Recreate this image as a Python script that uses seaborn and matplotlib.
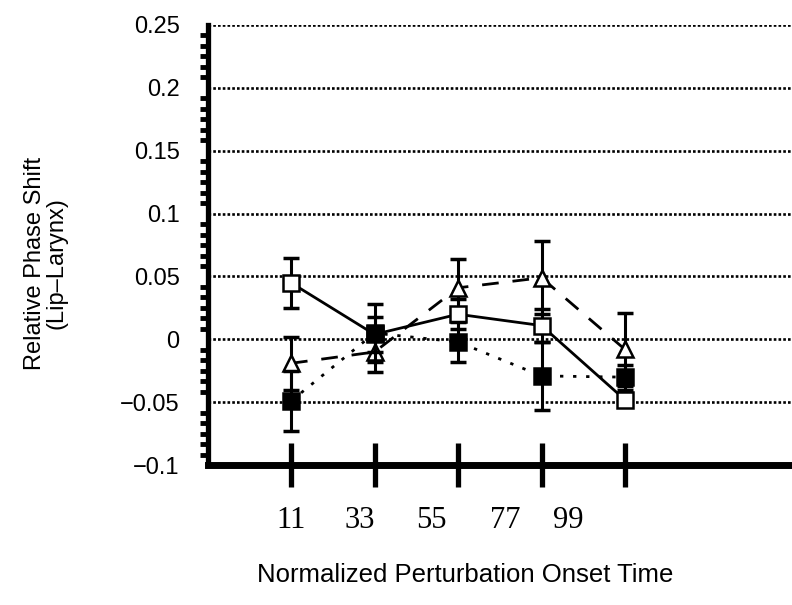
import numpy as np
import pandas as pd
import matplotlib
matplotlib.use("Agg")
import matplotlib.pyplot as plt
import seaborn as sns
from matplotlib.ticker import MultipleLocator

# ---- data ----
positions = [1, 2, 3, 4, 5]
tick_labels = ["11", "33", "55", "77", "99"]
label_positions = [1.0, 1.82, 2.68, 3.56, 4.32]

open_sq = [0.045, 0.004, 0.020, 0.011, -0.048]
open_sq_err = [0.020, 0.014, 0.012, 0.013, 0.005]

filled_sq = [-0.049, 0.005, -0.002, -0.029, -0.030]
filled_sq_err = [0.024, 0.023, 0.016, 0.027, 0.010]

triangle = [-0.019, -0.010, 0.041, 0.049, -0.008]
triangle_err = [0.021, 0.016, 0.023, 0.029, 0.029]

y_ticks = [-0.1, -0.05, 0, 0.05, 0.1, 0.15, 0.2, 0.25]
y_tick_labels = ["\u22120.1", "\u22120.05", "0", "0.05", "0.1", "0.15", "0.2", "0.25"]

df = pd.DataFrame({
    "pos": positions * 3,
    "value": open_sq + filled_sq + triangle,
    "series": ["open"] * 5 + ["filled"] * 5 + ["tri"] * 5,
})

sns.set_style("white")
plt.rcParams["font.family"] = ["Liberation Sans", "DejaVu Sans"]
plt.rcParams.update({
    "text.color": "black",
    "axes.labelcolor": "black",
    "xtick.color": "black",
    "ytick.color": "black",
    "axes.edgecolor": "black",
})

fig = plt.figure(figsize=(7.92, 6.05), dpi=100)
ax = fig.add_axes([0.262, 0.231, 0.738, 0.728])

# gridlines
for yv in y_ticks[1:]:
    ax.axhline(yv, color="black", lw=1.9, ls=(0, (1, 0.8)), zorder=1)

styles = {
    "tri": dict(marker="^", ls=(0, (6, 5)), mfc="white", ms=12, err=triangle_err, z=3),
    "open": dict(marker="s", ls="-", mfc="white", ms=11, err=open_sq_err, z=4),
    "filled": dict(marker="s", ls=(0, (1.2, 3.5)), mfc="black", ms=11, err=filled_sq_err, z=5),
}
for name in ["tri", "open", "filled"]:
    st = styles[name]
    sub = df[df["series"] == name]
    ax.errorbar(sub["pos"], sub["value"], yerr=st["err"], fmt="none",
                ecolor="black", elinewidth=2.2, capsize=6, capthick=2.5,
                zorder=st["z"])
    sns.lineplot(data=sub, x="pos", y="value", ax=ax, color="black",
                 lw=2.0, linestyle=st["ls"], marker=st["marker"],
                 markersize=st["ms"], markerfacecolor=st["mfc"],
                 markeredgecolor="black", markeredgewidth=1.8,
                 zorder=st["z"], legend=False)

ax.set_xlim(0, 7)
ax.set_ylim(-0.1, 0.25)

# spines
for s in ["top", "right"]:
    ax.spines[s].set_visible(False)
ax.spines["left"].set_linewidth(3.8)
ax.spines["bottom"].set_linewidth(5)
ax.spines["left"].set_color("black")
ax.spines["bottom"].set_color("black")

ax.set_yticks(y_ticks)
ax.set_yticklabels(y_tick_labels, fontsize=17, color="black")
ax.yaxis.set_minor_locator(MultipleLocator(0.05 / 6))
ax.tick_params(axis="y", which="major", direction="inout", length=16, width=3.8, pad=12,
               color="black")
ax.tick_params(axis="y", which="minor", direction="out", length=6, width=3.5, left=True,
               color="black")

ax.set_xticks(positions)
ax.set_xticklabels([])
ax.tick_params(axis="x", which="major", direction="inout", length=32, width=3.8, bottom=True,
               color="black")

for xp, lab in zip(label_positions, tick_labels):
    ax.text(xp, -0.144, lab, ha="center", va="center", fontsize=22, color="black",
            family=["Liberation Serif", "DejaVu Serif"], transform=ax.transData,
            clip_on=False)

ax.set_xlabel("")
ax.set_ylabel("")
fig.text(0.587, 0.05, "Normalized Perturbation Onset Time", ha="center", va="center",
         fontsize=18.5, color="black")
fig.text(0.058, 0.565, "Relative Phase Shift\n(Lip\u2013Larynx)", ha="center", va="center",
         rotation=90, fontsize=17, linespacing=1.0, color="black")

fig.savefig("out.png", dpi=100)
